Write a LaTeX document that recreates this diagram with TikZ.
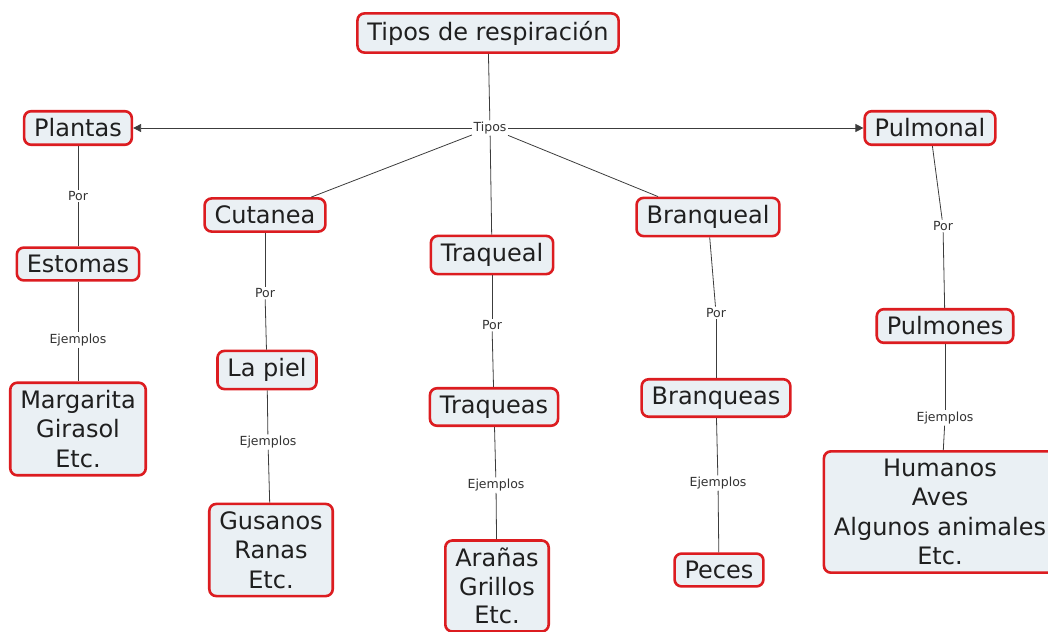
\documentclass[tikz,border=0pt]{standalone}
\usepackage{fontspec}
\setmainfont{DejaVu Sans}
\usetikzlibrary{arrows.meta,positioning}
\definecolor{boxred}{RGB}{220,28,32}
\definecolor{boxfill}{RGB}{234,240,244}
\definecolor{linkc}{RGB}{60,60,60}
\tikzset{
  concept/.style={draw=boxred, fill=boxfill, line width=2.6pt, rounded corners=7pt,
    font=\fontsize{24}{29.5}\selectfont, text=black!88, align=center, inner xsep=10pt, inner ysep=7.5pt},
  linkword/.style={font=\fontsize{12.5}{14}\selectfont, text=black!80, fill=white, inner sep=1.5pt},
  link/.style={draw=linkc, line width=0.8pt}
}
\begin{document}
\begin{tikzpicture}[x=1pt,y=-1pt]
\useasboundingbox (0,0) rectangle (1048,631);
% conceptos
\node[concept] (root) at (488,33) {Tipos de respiración};
\node[linkword] (tipos) at (490,128) {Tipos};
\node[concept] (plantas) at (78,128) {Plantas};
\node[concept] (pulmonal) at (930,128) {Pulmonal};
\node[concept] (cutanea) at (265,215) {Cutanea};
\node[concept] (traqueal) at (492,255) {Traqueal};
\node[concept] (branqueal) at (708,217) {Branqueal};
\node[concept] (estomas) at (78,264) {Estomas};
\node[concept] (margarita) at (78,429) {Margarita\\Girasol\\Etc.};
\node[concept] (piel) at (267,370) {La piel};
\node[concept] (gusanos) at (271,550) {Gusanos\\Ranas\\Etc.};
\node[concept] (traqueas) at (494,407) {Traqueas};
\node[concept,font=\fontsize{24}{28.5}\selectfont] (aranas) at (497,586) {Arañas\\Grillos\\Etc.};
\node[concept] (branqueas) at (716,398) {Branqueas};
\node[concept] (peces) at (719,570) {Peces};
\node[concept] (pulmones) at (945,326) {Pulmones};
\node[concept] (humanos) at (940,512) {Humanos\\Aves\\Algunos animales\\Etc.};
% palabras de enlace
\node[linkword] (por1) at (78,196) {Por};
\node[linkword] (ej1) at (78,340) {Ejemplos};
\node[linkword] (por2) at (265,293) {Por};
\node[linkword] (ej2) at (268,442) {Ejemplos};
\node[linkword] (por3) at (492,325) {Por};
\node[linkword] (ej3) at (496,485) {Ejemplos};
\node[linkword] (por4) at (716,313) {Por};
\node[linkword] (ej4) at (718,483) {Ejemplos};
\node[linkword] (por5) at (943,226) {Por};
\node[linkword] (ej5) at (945,418) {Ejemplos};
% conexiones
\draw[link] (root) -- (tipos);
\draw[link,-{Triangle[length=8pt,width=8pt]}] (tipos) -- (plantas);
\draw[link,-{Triangle[length=8pt,width=8pt]}] (tipos) -- (pulmonal);
\draw[link] (tipos) -- (cutanea);
\draw[link] (tipos) -- (traqueal);
\draw[link] (tipos) -- (branqueal);
\foreach \a/\b/\c in {plantas/por1/estomas, estomas/ej1/margarita,
  cutanea/por2/piel, piel/ej2/gusanos, traqueal/por3/traqueas, traqueas/ej3/aranas,
  branqueal/por4/branqueas, branqueas/ej4/peces, pulmonal/por5/pulmones, pulmones/ej5/humanos}{
  \draw[link] (\a) -- (\b);
  \draw[link] (\b) -- (\c);
}
\end{tikzpicture}
\end{document}
